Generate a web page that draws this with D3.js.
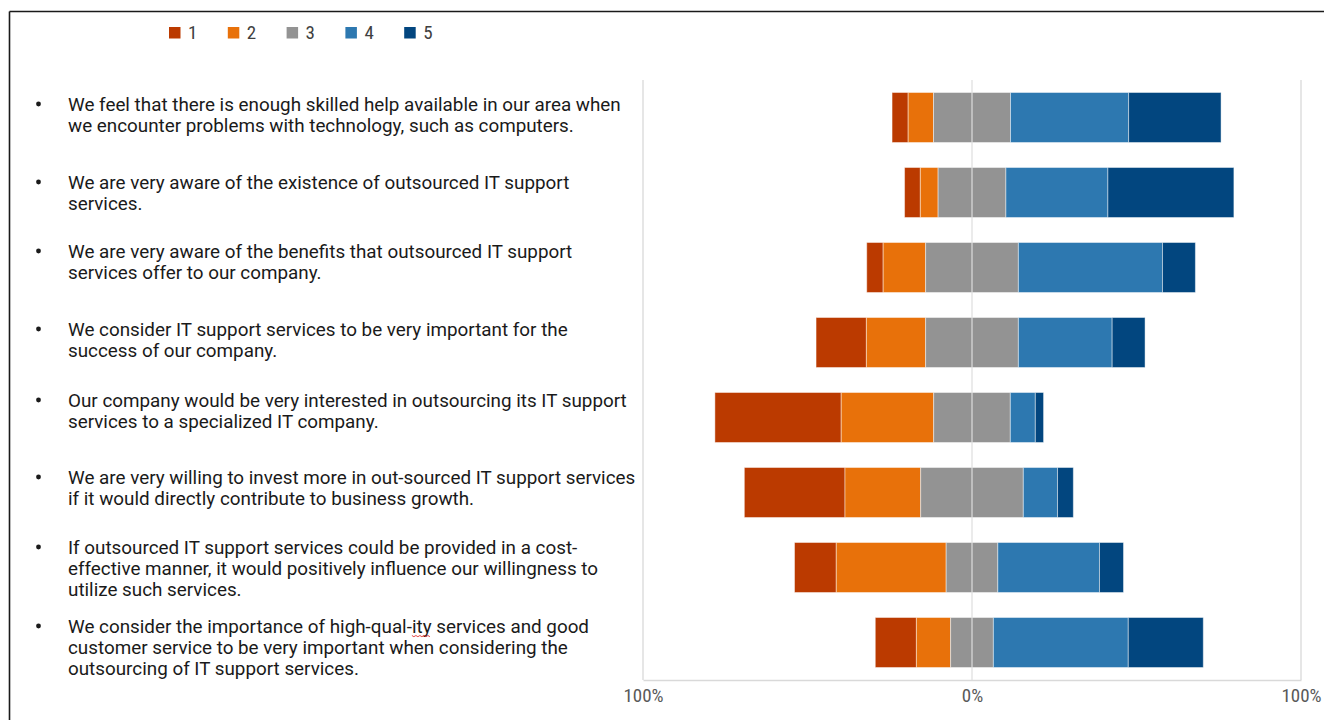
<!DOCTYPE html>
<html>
<head>
<meta charset="utf-8">
<script src="https://cdn.jsdelivr.net/npm/d3@7/dist/d3.min.js"></script>
<style>
  html, body { margin: 0; padding: 0; background: #fff; }
  svg { display: block; }
</style>
</head>
<body>
<svg id="chart" width="1324" height="720"></svg>
<script>
// Survey statements (one entry per line as laid out in the text column)
const statements = [
  ["We feel that there is enough skilled help available in our area when",
   "we encounter problems with technology, such as computers."],
  ["We are very aware of the existence of outsourced IT support",
   "services."],
  ["We are very aware of the benefits that outsourced IT support",
   "services offer to our company."],
  ["We consider IT support services to be very important for the",
   "success of our company."],
  ["Our company would be very interested in outsourcing its IT support",
   "services to a specialized IT company."],
  ["We are very willing to invest more in out-sourced IT support services",
   "if it would directly contribute to business growth."],
  ["If outsourced IT support services could be provided in a cost-",
   "effective manner, it would positively influence our willingness to",
   "utilize such services."],
  ["We consider the importance of high-qual-ity services and good",
   "customer service to be very important when considering the",
   "outsourcing of IT support services."]
];

// Likert levels
const levels = ["1", "2", "3", "4", "5"];

// Share of answers per level (%), in statement order
const level1 = [4.9, 4.8, 5.0, 15.3, 38.4, 30.6, 12.7, 12.5];
const level2 = [7.7, 5.4, 12.9, 18.0, 28.1, 23.0, 33.4, 10.4];
const level3 = [23.4, 20.6, 28.2, 28.2, 23.3, 31.2, 15.7, 13.0];
const level4 = [35.9, 31.0, 43.8, 28.5, 7.6, 10.4, 30.9, 41.0];
const level5 = [28.1, 38.3, 10.0, 10.0, 2.5, 4.8, 7.3, 22.8];

// Axis ticks
const tickValues = [-100, 0, 100];

const colors = ["#bb3a00", "#e8710a", "#939393", "#2d78b0", "#02467f"];

const svg = d3.select("#chart");
const series = [level1, level2, level3, level4, level5];

// Outer frame (top and left edges)
svg.append("line").attr("x1", 9.5).attr("x2", 1324).attr("y1", 11.5).attr("y2", 11.5)
  .attr("stroke", "#1a1a1a").attr("stroke-width", 1.6);
svg.append("line").attr("x1", 9.5).attr("x2", 9.5).attr("y1", 11.5).attr("y2", 720)
  .attr("stroke", "#1a1a1a").attr("stroke-width", 1.6);

// Scales
const x = d3.scaleLinear().domain([-100, 100]).range([643, 1301]);
const y = d3.scaleBand().domain(d3.range(statements.length))
  .range([80, 680]).paddingInner(1 / 3).paddingOuter(1 / 6);

// Diverging stack: the neutral level straddles zero
const rows = statements.map((_, i) => {
  const vals = series.map(s => s[i]);
  let pos = -(vals[0] + vals[1] + vals[2] / 2);
  return vals.map((v, k) => {
    const seg = { row: i, level: k, x0: pos, x1: pos + v };
    pos += v;
    return seg;
  });
});

const plot = svg.append("g");

// Outer gridlines of the plot area
plot.selectAll("line.grid").data([-100, 100]).join("line")
  .attr("class", "grid")
  .attr("x1", d => x(d)).attr("x2", d => x(d))
  .attr("y1", 80).attr("y2", 680)
  .attr("stroke", "#d9d9d9").attr("stroke-width", 1.3);

// Bars
plot.selectAll("g.row").data(rows).join("g").attr("class", "row")
  .selectAll("rect").data(d => d).join("rect")
  .attr("x", d => x(d.x0))
  .attr("width", d => x(d.x1) - x(d.x0))
  .attr("y", d => y(d.row))
  .attr("height", y.bandwidth())
  .attr("fill", d => colors[d.level])
  .attr("stroke", "rgba(255,255,255,0.45)")
  .attr("stroke-width", 1);

// Zero line drawn over the bars
plot.append("line")
  .attr("x1", x(0)).attr("x2", x(0)).attr("y1", 80).attr("y2", 680)
  .attr("stroke", "#dedede").attr("stroke-opacity", 0.75).attr("stroke-width", 1.6);

// Bottom axis
const axis = d3.axisBottom(x).tickValues(tickValues)
  .tickFormat(d => Math.abs(d) + "%").tickSize(0).tickPadding(9);
const ax = svg.append("g").attr("transform", "translate(0,680)").call(axis);
ax.select(".domain").attr("stroke", "#d9d9d9").attr("stroke-width", 1.3);
ax.selectAll("text")
  .attr("font-family", "'Liberation Sans Narrow', 'Roboto Condensed', Roboto, sans-serif")
  .attr("font-size", 19).attr("fill", "#595959");

// Legend
const legend = svg.append("g").attr("transform", "translate(169,27)");
const li = legend.selectAll("g").data(levels).join("g")
  .attr("transform", (d, i) => `translate(${i * 58.8},0)`);
li.append("rect").attr("width", 11.5).attr("height", 11.5)
  .attr("fill", (d, i) => colors[i]);
li.append("text").attr("x", 19).attr("y", 11.5)
  .attr("font-family", "'Liberation Sans Narrow', 'Roboto Condensed', Roboto, sans-serif")
  .attr("font-size", 19).attr("fill", "#404040")
  .text(d => d);

// Statement text column (bulleted list)
const paragraphTop = [104, 182, 251, 329, 400, 477, 547, 626];
const lineGap = 21.3;
const textFont = "Roboto, 'Noto Sans', sans-serif";
const tg = svg.append("g");

// Size the font so the first line spans the column width
const probe = tg.append("text").attr("font-family", textFont).attr("font-size", 17)
  .text(statements[0][0]);
const textSize = 17 * 553 / probe.node().getComputedTextLength();
probe.remove();

statements.forEach((lines, i) => {
  tg.append("circle").attr("cx", 38.5).attr("cy", paragraphTop[i]).attr("r", 2.4)
    .attr("fill", "#1a1a1a");
  lines.forEach((ln, j) => {
    tg.append("text")
      .attr("class", "stmt")
      .attr("x", 68).attr("y", paragraphTop[i] + j * lineGap + 6.5)
      .attr("font-family", textFont).attr("font-size", textSize)
      .attr("fill", "#1a1a1a")
      .text(ln);
  });
});

// Spell-check squiggle under "ity"
tg.selectAll("text.stmt").each(function () {
  const s = this.textContent;
  const k = s.indexOf("qual-ity");
  if (k >= 0) {
    const start = k + 5;
    const x0 = 68 + this.getSubStringLength(0, start);
    const w = this.getSubStringLength(start, 3);
    const yy = +this.getAttribute("y") + 3;
    const pts = [];
    for (let t = 0; t <= w; t += 2) pts.push([x0 + t, yy + ((t / 2) % 2 ? 1.2 : 0)]);
    tg.append("path").attr("d", d3.line()(pts))
      .attr("fill", "none").attr("stroke", "#e03030").attr("stroke-width", 0.9);
  }
});
</script>
</body>
</html>
